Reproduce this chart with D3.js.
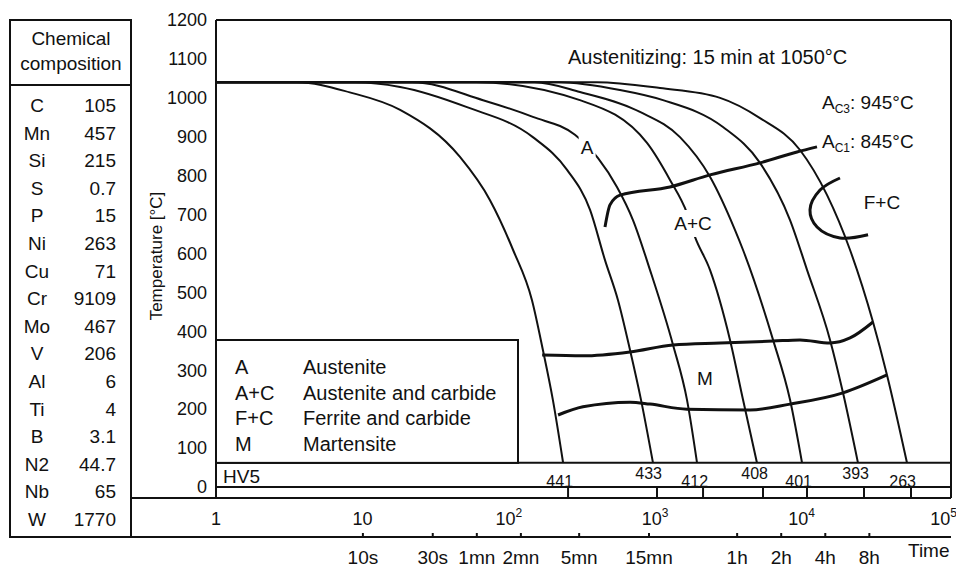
<!DOCTYPE html>
<html>
<head>
<meta charset="utf-8">
<script src="https://cdn.jsdelivr.net/npm/d3@7"></script>
<style>
    body { margin: 0; background: #fff; }
    svg text { font-family: "Liberation Sans", Arial, Helvetica, sans-serif; fill: #111; }
</style>
</head>
<body>
<div id="chart"></div>
<script>
// chemical composition (table at the left)
var elements = ["C", "Mn", "Si", "S", "P", "Ni", "Cu", "Cr", "Mo", "V", "Al", "Ti", "B", "N2", "Nb", "W"];
var contents = ["105", "457", "215", "0.7", "15", "263", "71", "9109", "467", "206", "6", "4", "3.1", "44.7", "65", "1770"];

// axes
var tempTicks = [0, 100, 200, 300, 400, 500, 600, 700, 800, 900, 1000, 1100, 1200];
var decades = [1, 10, 100, 1000, 10000, 100000];
var decadeBase = ["1", "10", "10", "10", "10", "10"];
var decadeExp = ["", "", "2", "3", "4", "5"];
var timeSecs = [10, 30, 60, 120, 300, 900, 3600, 7200, 14400, 28800];
var timeLabels = ["10s", "30s", "1mn", "2mn", "5mn", "15mn", "1h", "2h", "4h", "8h"];

// cooling curves, [time (s), temperature (°C)]
var curve1 = [[1, 1040], [3.6, 1040], [8.2, 1014], [18.1, 969], [46.4, 848], [74.4, 737], [107, 609], [144, 480], [171, 352], [200, 224], [235, 62]];
var curve2 = [[1, 1040], [9, 1040], [18.1, 1028], [51.8, 976], [146, 899], [250, 815], [359, 712], [454, 583], [557, 480], [673, 352], [800, 224], [966, 62]];
var curve3 = [[1, 1040], [22, 1040], [66.7, 994], [146, 951], [283, 905], [407, 845], [548, 771], [705, 686], [921, 558], [1324, 365], [1649, 224], [1931, 62]];
var curve4 = [[1, 1040], [60, 1040], [306, 994], [879, 884], [1262, 789], [1649, 704], [1872, 642], [2367, 558], [3243, 378], [3981, 224], [4956, 62]];
var curve5 = [[1, 1040], [150, 1040], [306, 1015], [787, 964], [1477, 899], [2367, 797], [3510, 660], [3981, 609], [6383, 378], [8337, 224], [10070, 62]];
var curve6 = [[1, 1040], [220, 1040], [575, 1020], [1130, 994], [2904, 925], [5198, 833], [8337, 686], [10890, 558], [15640, 378], [19180, 242], [24270, 62]];
var curve7 = [[1, 1040], [400, 1040], [1079, 1025], [2773, 1000], [5198, 948], [9750, 866], [14930, 750], [21430, 609], [30740, 424], [38300, 288], [52480, 62]];
var coolingCurves = [curve1, curve2, curve3, curve4, curve5, curve6, curve7];

// HV5 hardness at the end of each curve
var hardness = [441, 433, 412, 408, 401, 393, 263];
var hvTimes = [254, 1029, 2122, 5450, 10890, 26690, 55860];

// transformation lines
var ac1Line = [[454, 668], [491, 725], [575, 750], [1262, 771], [2367, 802], [5198, 833], [9310, 861], [12740, 874]];
var fcLine = [[18290, 794], [13360, 763], [11410, 712], [12750, 668], [18290, 640], [28440, 648]];
var msLine = [[169, 339], [321, 337], [673, 347], [1324, 365], [2773, 370], [6383, 375], [9750, 378], [15640, 370], [21430, 383], [30740, 424]];
var mfLine = [[217, 185], [321, 206], [673, 218], [921, 213], [1649, 200], [4443, 198], [8337, 213], [19180, 242], [38300, 288]];

var legendKeys = ["A", "A+C", "F+C", "M"];
var legendNames = ["Austenite", "Austenite and carbide", "Ferrite and carbide", "Martensite"];

var svg = d3.select('#chart').append('svg').attr("width", 956).attr("height", 569);

var x = d3.scaleLog().domain([1, 1e5]).range([216, 948]);
var y = d3.scaleLinear().domain([0, 1200]).range([487, 20]);
var hvTop = 62;
var right = 951;

function hline(x1, x2, yy, w) {
    svg.append("line").attr("x1", x1).attr("x2", x2).attr("y1", yy).attr("y2", yy)
        .attr("stroke", "#111").attr("stroke-width", w || 2);
}
function vline(xx, y1, y2, w) {
    svg.append("line").attr("x1", xx).attr("x2", xx).attr("y1", y1).attr("y2", y2)
        .attr("stroke", "#111").attr("stroke-width", w || 2);
}

// table
svg.append("rect").attr("x", 10).attr("y", 20).attr("width", 121).attr("height", 517)
    .attr("fill", "none").attr("stroke", "#111").attr("stroke-width", 2);
hline(10, 131, 85);
svg.append("text").attr("x", 71).attr("y", 45).attr("text-anchor", "middle").style("font-size", "19px").text("Chemical");
svg.append("text").attr("x", 71).attr("y", 70).attr("text-anchor", "middle").style("font-size", "19px").text("composition");
svg.selectAll(".el").data(elements).enter().append("text")
    .attr("x", 37).attr("y", function (d, i) { return 112 + i * 27.6; })
    .attr("text-anchor", "middle").style("font-size", "19px").text(function (d) { return d; });
svg.selectAll(".val").data(contents).enter().append("text")
    .attr("x", 116).attr("y", function (d, i) { return 112 + i * 27.6; })
    .attr("text-anchor", "end").style("font-size", "19px").text(function (d) { return d; });

// frame
hline(216, right, 20);
vline(216, 20, 498);
vline(right, 20, 498);
hline(131, right, 498);
hline(216, right, y(0));
hline(216, right, y(hvTop));
hline(10, right, 537);

// y axis
var yAxis = svg.append("g").attr("transform", "translate(216,0)")
    .call(d3.axisLeft(y).tickValues(tempTicks).tickFormat(d3.format("d")).tickSize(0).tickPadding(9));
yAxis.select(".domain").remove();
yAxis.selectAll("text").style("font-size", "18px").style("fill", "#111");

svg.append("text").attr("transform", "rotate(-90)")
    .attr("x", -256).attr("y", 162).attr("text-anchor", "middle")
    .style("font-size", "17px").text("Temperature [°C]");

// log time labels
var dec = svg.selectAll(".dec").data(decades).enter().append("text")
    .attr("x", function (d, i) { return i == decades.length - 1 ? 957 : x(d); })
    .attr("y", 525)
    .attr("text-anchor", function (d, i) { return i == decades.length - 1 ? "end" : "middle"; })
    .style("font-size", "18px");
dec.append("tspan").text(function (d, i) { return decadeBase[i]; });
dec.append("tspan").attr("dy", -8).style("font-size", "12px").text(function (d, i) { return decadeExp[i]; });

// time axis
var tAxis = svg.append("g").attr("transform", "translate(0,537)")
    .call(d3.axisBottom(x).tickValues(timeSecs).tickFormat(function (d, i) { return timeLabels[i]; })
        .tickSizeInner(-4).tickSizeOuter(0).tickPadding(14));
tAxis.select(".domain").remove();
tAxis.selectAll("line").attr("stroke", "#111").attr("stroke-width", 2);
tAxis.selectAll("text").style("font-size", "19px").style("fill", "#111");
svg.append("text").attr("x", 908).attr("y", 557).style("font-size", "19px").text("Time");

// legend box
svg.append("rect").attr("x", 216).attr("y", 340).attr("width", 302).attr("height", y(hvTop) - 340)
    .attr("fill", "#fff").attr("stroke", "#111").attr("stroke-width", 2);
svg.selectAll(".lk").data(legendKeys).enter().append("text")
    .attr("x", 235).attr("y", function (d, i) { return 374 + i * 25.5; })
    .style("font-size", "20px").text(function (d) { return d; });
svg.selectAll(".ln").data(legendNames).enter().append("text")
    .attr("x", 303).attr("y", function (d, i) { return 374 + i * 25.5; })
    .style("font-size", "20px").text(function (d) { return d; });

svg.append("text").attr("x", 223).attr("y", 483).style("font-size", "19px").text("HV5");

// curves
var line = d3.line()
    .x(function (d) { return x(d[0]); })
    .y(function (d) { return y(d[1]); })
    .curve(d3.curveMonotoneX);

svg.selectAll(".cool").data(coolingCurves).enter().append("path")
    .attr("d", line).attr("fill", "none").attr("stroke", "#111").attr("stroke-width", 2);

[ac1Line, msLine, mfLine].forEach(function (l) {
    svg.append("path").attr("d", line(l)).attr("fill", "none").attr("stroke", "#111").attr("stroke-width", 3);
});
svg.append("path").attr("d", d3.line().x(function (d) { return x(d[0]); }).y(function (d) { return y(d[1]); })
    .curve(d3.curveCatmullRom.alpha(0.5))(fcLine))
    .attr("fill", "none").attr("stroke", "#111").attr("stroke-width", 3);

// hardness ticks and values
svg.selectAll(".hvt").data(hvTimes).enter().append("line")
    .attr("x1", function (d) { return x(d); }).attr("x2", function (d) { return x(d); })
    .attr("y1", y(0)).attr("y2", 498).attr("stroke", "#111").attr("stroke-width", 2);
svg.selectAll(".hv").data(hardness).enter().append("text")
    .attr("x", function (d, i) { return x(hvTimes[i]) + 5; })
    .attr("y", function (d, i) { return i % 2 == 0 ? 487 : 479; })
    .attr("text-anchor", "end").style("font-size", "16px").text(function (d) { return d; });

// phase labels (with a white ground that cuts the curve)
function label(txt, t, T, size, knock) {
    var g = svg.append("g");
    var tx = g.append("text").attr("x", x(t)).attr("y", y(T)).attr("dy", "0.36em")
        .attr("text-anchor", "middle").style("font-size", size + "px").text(txt);
    if (knock) {
        var b = tx.node().getBBox();
        g.insert("rect", "text").attr("x", b.x - 2).attr("y", b.y - 3)
            .attr("width", b.width + 4).attr("height", b.height + 6).attr("fill", "#fff");
    }
}
label("A", 342, 874, 19, true);
label("A+C", 1811, 678, 19, true);
label("F+C", 35400, 732, 19, false);
label("M", 2188, 280, 19, false);

svg.append("text").attr("x", 568).attr("y", 64).style("font-size", "20px").text("Austenitizing: 15 min at 1050°C");

var ac3 = svg.append("text").attr("x", 822).attr("y", 109).style("font-size", "19px");
ac3.append("tspan").text("A");
ac3.append("tspan").attr("dy", 4).style("font-size", "12px").text("C3");
ac3.append("tspan").attr("dy", -4).text(": 945°C");
var ac1 = svg.append("text").attr("x", 822).attr("y", 148).style("font-size", "19px");
ac1.append("tspan").text("A");
ac1.append("tspan").attr("dy", 4).style("font-size", "12px").text("C1");
ac1.append("tspan").attr("dy", -4).text(": 845°C");
</script>
</body>
</html>
